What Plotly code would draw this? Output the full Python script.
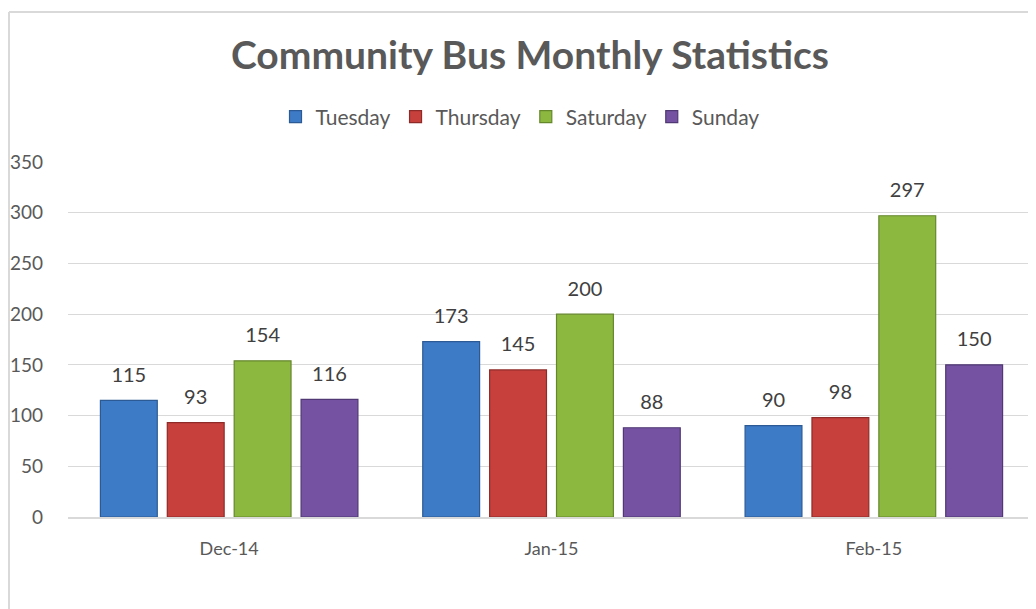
import plotly.graph_objects as go

# Dati
mesi = ["Dec-14", "Jan-15", "Feb-15"]
giorni = ["Tuesday", "Thursday", "Saturday", "Sunday"]
tuesday = [115, 173, 90]
thursday = [93, 145, 98]
saturday = [154, 200, 297]
sunday = [116, 88, 150]
y_ticks = [0, 50, 100, 150, 200, 250, 300, 350]

serie = [tuesday, thursday, saturday, sunday]
colori = ["#3E7BC7", "#C8403C", "#8DB840", "#7553A2"]
bordi = ["#2C5A94", "#8E2B28", "#65872C", "#4F3873"]

FONT = "Lato, Carlito, Calibri, sans-serif"
BARGAP = 0.17

fig = go.Figure()
for i, (nome, valori, col, bordo) in enumerate(zip(giorni, serie, colori, bordi)):
    fig.add_trace(go.Bar(
        name=nome,
        x=mesi,
        y=valori,
        offsetgroup=str(i),
        marker_color=col,
        marker_line_color=bordo,
        marker_line_width=1.2,
    ))
    # etichette dei valori, un po' staccate dalla barra
    fig.add_trace(go.Scatter(
        x=mesi,
        y=valori,
        offsetgroup=str(i),
        mode="markers+text",
        marker={"size": 20, "opacity": 0},
        text=[str(v) for v in valori],
        textposition="top center",
        textfont={"size": 20, "color": "#404040", "family": FONT},
        showlegend=False,
        hoverinfo="skip",
        cliponaxis=False,
    ))

fig.update_layout(
    width=1036,
    height=609,
    margin={"l": 60, "r": 9, "t": 154, "b": 100},
    paper_bgcolor="white",
    plot_bgcolor="white",
    barmode="group",
    bargap=BARGAP,
    bargroupgap=0.15,
    scattermode="group",
    scattergap=BARGAP,
    font={"family": FONT, "color": "#595959"},
    title={
        "text": "<b>Community Bus Monthly Statistics</b>",
        "x": 522 / 1036,
        "xref": "container",
        "xanchor": "center",
        "y": 1 - 47 / 609,
        "yref": "container",
        "yanchor": "middle",
        "font": {"size": 39, "color": "#595959", "family": FONT},
    },
    legend={
        "orientation": "h",
        "x": 512 / 1036,
        "xref": "container",
        "xanchor": "center",
        "y": 1 - 109 / 609,
        "yref": "container",
        "yanchor": "middle",
        "font": {"size": 21, "color": "#595959", "family": FONT},
        "itemwidth": 30,
        "traceorder": "normal",
    },
    showlegend=True,
)

fig.update_xaxes(
    range=[-0.5, 2.5],
    showgrid=False,
    showline=True,
    linecolor="#D9D9D9",
    linewidth=1.5,
    ticks="",
    tickfont={"size": 18, "color": "#595959", "family": FONT},
    ticklabelstandoff=15,
    automargin=False,
)
fig.update_yaxes(
    range=[0, 350],
    tickvals=y_ticks,
    showgrid=True,
    gridcolor="#D9D9D9",
    gridwidth=1.2,
    zeroline=False,
    showline=False,
    ticks="",
    tickfont={"size": 19, "color": "#595959", "family": FONT},
    ticklabelstandoff=24,
    automargin=False,
)

# cornice grigia del grafico (bordo sinistro e superiore)
bordo_x = (1 - 60) / 967
bordo_y = 1 + (154 - 4) / 355
fig.add_shape(type="line", xref="paper", yref="paper",
              x0=bordo_x, x1=1.02, y0=bordo_y, y1=bordo_y,
              line={"color": "#D9D9D9", "width": 2})
fig.add_shape(type="line", xref="paper", yref="paper",
              x0=bordo_x, x1=bordo_x, y0=bordo_y, y1=-110 / 355,
              line={"color": "#D9D9D9", "width": 2})

fig.write_html("out.html")
